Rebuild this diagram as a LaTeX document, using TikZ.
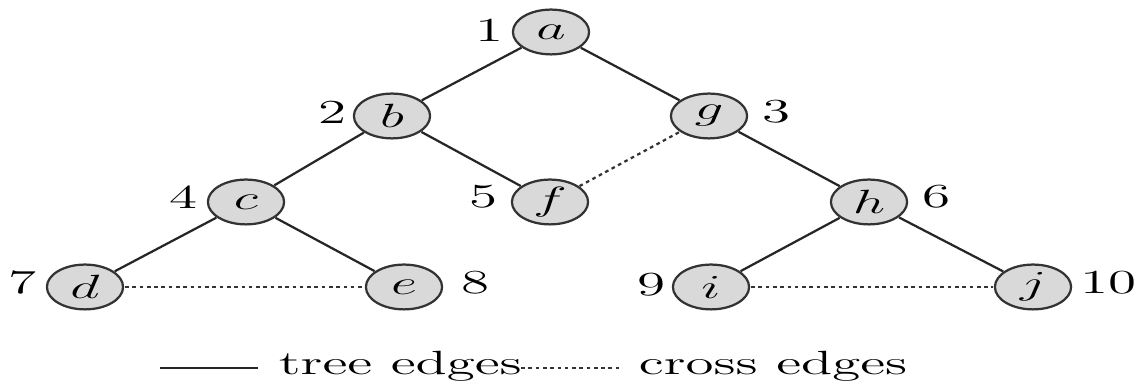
\documentclass[tikz,border=0pt]{standalone}
\usepackage{amsmath,amssymb}
\usepackage{tikz}
\usetikzlibrary{positioning, calc}
\tikzset{
  vtx/.style = {
    circle, draw=black!80, fill=black!15, thick,
    minimum size=16pt, inner sep=0pt, font=\large
  },
  num/.style = {inner sep=0pt, font=\large},
  tedge/.style  = {thick, black!85},
  cedge/.style  = {thick, black!80, dash pattern=on 1.3pt off 1.3pt}
}
\begin{document}
\begin{tikzpicture}[
  x=0.21pt, y=-0.357pt, xscale=1.7, transform shape
]
\useasboundingbox (0,0) rectangle (1137,384);

%% -- vertices ------------------------------------------
\node[vtx] (a) at (551,32)  {$a$};
\node[vtx] (b) at (392,116) {$b$};
\node[vtx] (g) at (709,116) {$g$};
\node[vtx] (c) at (246,202) {$c$};
\node[vtx] (f) at (550,202) {$f$};
\node[vtx] (h) at (869,202) {$h$};
\node[vtx] (d) at (85,287)  {$d$};
\node[vtx] (e) at (404,287) {$e$};
\node[vtx] (i) at (711,287) {$i$};
\node[vtx] (j) at (1033,287) {$j$};

%% -- visit order ---------------------------------------
\node[num] (n1)  at (489,30)  {1};
\node[num] (n2)  at (332,112) {2};
\node[num] (n3)  at (776,112) {3};
\node[num] (n4)  at (183,197) {4};
\node[num] (n5)  at (483,197) {5};
\node[num] (n6)  at (936,197) {6};
\node[num] (n7)  at (22,283)  {7};
\node[num] (n8)  at (475,283) {8};
\node[num] (n9)  at (651,285) {9};
\node[num] (n10) at (1108,283) {10};

%% -- tree edges ----------------------------------------
\draw[tedge] (a) -- (b);
\draw[tedge] (a) -- (g);
\draw[tedge] (b) -- (c);
\draw[tedge] (b) -- (f);
\draw[tedge] (c) -- (d);
\draw[tedge] (c) -- (e);
\draw[tedge] (g) -- (h);
\draw[tedge] (h) -- (i);
\draw[tedge] (h) -- (j);

%% -- cross edges ---------------------------------------
\draw[cedge] (f) -- (g);
\draw[cedge] (d) -- (e);
\draw[cedge] (i) -- (j);

%% -- legend --------------------------------------------
\coordinate (lt1) at (160,368);
\coordinate (lt2) at (258,368);
\node[font=\large, inner sep=0pt, anchor=west] (treelbl) at (278,366) {tree edges};
\coordinate (ld1) at (521,368);
\coordinate (ld2) at (619,368);
\node[font=\large, inner sep=0pt, anchor=west] (crosslbl) at (638,366) {cross edges};
\draw[tedge] (lt1) -- (lt2);
\draw[cedge] (ld1) -- (ld2);

\end{tikzpicture}
\end{document}
